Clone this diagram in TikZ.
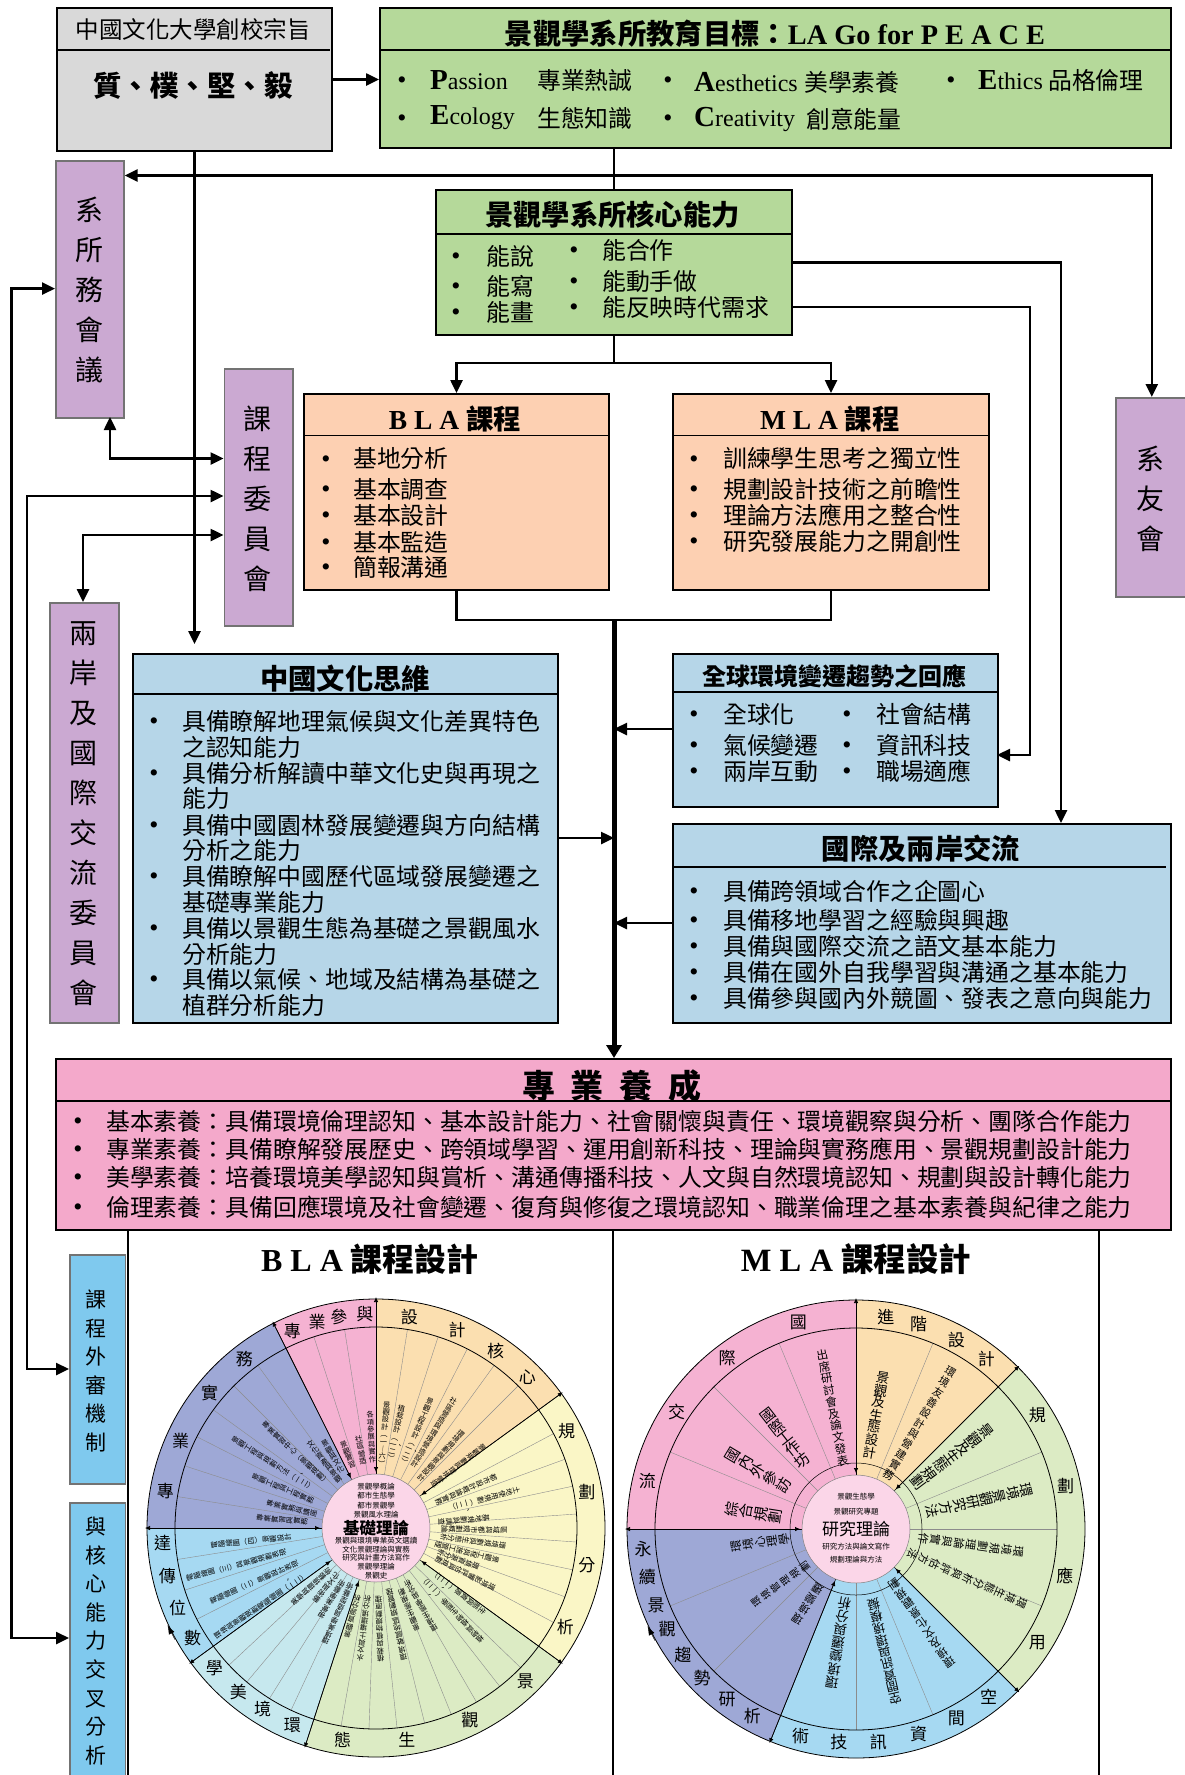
\documentclass[tikz,border=0pt]{standalone}
\usepackage{fontspec}
\usetikzlibrary{arrows.meta,calc}
\setmainfont{Noto Sans CJK TC}
\newfontfamily\latin{Liberation Serif}
\XeTeXlinebreaklocale "zh"
\XeTeXlinebreakskip=0pt plus 1pt
\newcommand{\bktL}{︵\hspace{0pt}}
\newcommand{\bktR}{\hspace{0pt}︶}
\newcommand{\initcap}[2]{{\latin\fontsize{29}{30}\selectfont\bfseries #1\fontsize{24}{30}\selectfont\mdseries #2}}
\definecolor{cgray}{HTML}{D9D9D9}
\definecolor{cgreen}{HTML}{B5D99A}
\definecolor{cpurple}{HTML}{CBA9D2}
\definecolor{corange}{HTML}{FDD0B2}
\definecolor{cblue}{HTML}{B6D6E8}
\definecolor{cpink}{HTML}{F4A9CB}
\definecolor{csky}{HTML}{7FC9EE}
\definecolor{worange}{HTML}{FBDFB0}
\definecolor{wyellow}{HTML}{FAF6C6}
\definecolor{wgreen}{HTML}{DCEBC4}
\definecolor{wcyan}{HTML}{C6E8EE}
\definecolor{wblue}{HTML}{A6D9F2}
\definecolor{wpurple}{HTML}{9EA8D6}
\definecolor{wpink}{HTML}{F5B2D2}
\definecolor{wcore}{HTML}{FBD6E8}
\tikzset{
  >={Triangle[length=13pt,width=12pt]},
  bx/.style={draw=black,line width=2pt,anchor=north west,inner sep=0pt},
  sidebx/.style={draw=black!55,line width=1.6pt,anchor=north west,inner sep=0pt},
  titlerule/.style={line width=1.6pt},
  link/.style={line width=2.5pt},
  head/.style={inner sep=0pt,font=\fontsize{28.3}{30}\selectfont\bfseries},
  body/.style={anchor=west,inner sep=0pt,font=\fontsize{23.85}{26}\selectfont},
  dot/.style={inner sep=0pt,yshift=-3pt,font=\latin\fontsize{26}{26}\selectfont},
  vtext/.style={align=center,inner sep=0pt,font=\fontsize{28}{40}\selectfont},
  vsmall/.style={align=center,inner sep=0pt,font=\fontsize{21}{28.6}\selectfont},
  ringtxt/.style={inner sep=0pt,font=\fontsize{17}{18}\selectfont},
  radS/.style={anchor=north,inner sep=0pt,text width=9pt,align=center,font=\fontsize{7.3}{7.4}\selectfont},
  radM/.style={anchor=north,inner sep=0pt,text width=18pt,align=center},
  spoke/.style={draw=black!45,line width=0.4pt},
  wheelarrow/.style={line width=0.7pt,{Latex[length=5pt,width=4.5pt]}-{Latex[length=5pt,width=4.5pt]}},
}
\begin{document}
\begin{tikzpicture}[x=1pt,y=1pt]
\useasboundingbox (0,0) rectangle (1184,-1775);
% boxes
\node[bx,fill=cgray,minimum width=275pt,minimum height=143pt] (gray) at (56,-7) {};
\node[bx,fill=cgreen,minimum width=791pt,minimum height=140pt] (goal) at (379,-7) {};
\node[sidebx,fill=cpurple,minimum width=68pt,minimum height=257pt] (meet) at (55,-160) {};
\node[sidebx,fill=cpurple,minimum width=68.5pt,minimum height=257pt] (ccom) at (223.5,-368) {};
\node[sidebx,fill=cpurple,minimum width=72pt,minimum height=199pt] (alum) at (1115,-397) {};
\node[sidebx,fill=cpurple,minimum width=69pt,minimum height=420pt] (cross) at (49,-602) {};
\node[bx,fill=cgreen,minimum width=356pt,minimum height=145pt] (core) at (435,-189) {};
\node[bx,fill=corange,minimum width=305pt,minimum height=196pt] (bla) at (303,-393) {};
\node[bx,fill=corange,minimum width=316pt,minimum height=196pt] (mla) at (672,-393) {};
\node[bx,fill=cblue,minimum width=425pt,minimum height=369pt] (cul) at (132,-653) {};
\node[bx,fill=cblue,minimum width=325pt,minimum height=153pt] (glob) at (672,-653) {};
\node[bx,fill=cblue,minimum width=498pt,minimum height=199pt] (intl) at (672,-823) {};
\node[bx,fill=cpink,minimum width=1115pt,minimum height=171pt] (pro) at (55,-1058) {};
\node[sidebx,fill=csky,minimum width=55.5pt,minimum height=229pt] (rev) at (69,-1254) {};
\node[sidebx,fill=csky,minimum width=55.5pt,minimum height=285pt] (ana) at (69,-1502) {};
% title rules
\draw[titlerule] (56,-50) -- (330,-50);
\draw[titlerule] (379,-50) -- (1170,-50);
\draw[titlerule] (435,-234) -- (791,-234);
\draw[titlerule] (303,-435.5) -- (608,-435.5);
\draw[titlerule] (672,-435.5) -- (988,-435.5);
\draw[titlerule] (132,-694) -- (557,-694);
\draw[titlerule] (672,-692) -- (997,-692);
\draw[titlerule] (672,-867) -- (1166,-867);
\draw[titlerule] (55,-1101) -- (1170,-1101);
% titles
\node[head,font=\fontsize{23.5}{26}\selectfont] (grayhd) at (193,-30) {中國文化大學創校宗旨};
\node[head,font=\fontsize{28.5}{30}\selectfont\bfseries] (graybig) at (193,-85) {質、樸、堅、毅};
\node[head] (goalhd) at (775,-34) {景觀學系所教育目標：{\latin LA Go for P E A C E}};
\node[head] (corehd) at (612.5,-215) {景觀學系所核心能力};
\node[head,font=\fontsize{27.5}{30}\selectfont\bfseries] (blahd) at (455,-419) {{\latin B L A }課程};
\node[head,font=\fontsize{27.5}{30}\selectfont\bfseries] (mlahd) at (830,-419) {{\latin M L A }課程};
\node[head] (culhd) at (345,-679) {中國文化思維};
\node[head,font=\fontsize{24}{26}\selectfont\bfseries] (globhd) at (834,-676) {全球環境變遷趨勢之回應};
\node[head] (intlhd) at (921,-849) {國際及兩岸交流};
\node[head,font=\fontsize{33}{36}\selectfont\bfseries] (prohd) at (612,-1086) {專\hspace{16pt}業\hspace{16pt}養\hspace{16pt}成};
\node[head,font=\fontsize{32}{34}\selectfont\bfseries] (bdes) at (370,-1259) {{\latin B L A }課程設計};
\node[head,font=\fontsize{32.5}{34}\selectfont\bfseries] (mdes) at (856,-1259) {{\latin M L A }課程設計};
% side labels
\node[vtext] (meettx) at (89,-290) {系\\所\\務\\會\\議};
\node[vtext] (ccomtx) at (257,-499) {課\\程\\委\\員\\會};
\node[vtext] (alumtx) at (1150,-499) {系\\友\\會};
\node[vtext] (crosstx) at (83,-814) {兩\\岸\\及\\國\\際\\交\\流\\委\\員\\會};
\node[vsmall] (revtx) at (96,-1371) {課\\程\\外\\審\\機\\制};
\node[vsmall] (anatx) at (96,-1641) {與\\核\\心\\能\\力\\交\\叉\\分\\析};
% goal items
\foreach \x/\y [count=\i] in {402/-80,402/-118,668/-80,668/-118,951/-80}
  \node[dot] (gd\i) at (\x,\y) {•};
\node[body] (g1) at (430,-80) {\initcap{P}{assion}};
\node[body] (g2) at (537,-80) {專業熱誠};
\node[body] (g3) at (430,-118) {\initcap{E}{cology}};
\node[body] (g4) at (537,-118) {生態知識};
\node[body] (g5) at (694,-82) {\initcap{A}{esthetics}};
\node[body] (g6) at (804,-82) {美學素養};
\node[body] (g7) at (694,-119) {\initcap{C}{reativity}};
\node[body] (g8) at (806,-119) {創意能量};
\node[body] (g9) at (978,-80) {\initcap{E}{thics} 品格倫理};
% core items
\foreach \y/\t [count=\i] in {-256/能說,-286/能寫,-312/能畫} {
  \node[dot] (cda\i) at (456,\y) {•};
  \node[body] (ca\i) at (486,\y) {\t};
}
\foreach \y/\t [count=\i] in {-250/能合作,-281/能動手做,-307/能反映時代需求} {
  \node[dot] (cdb\i) at (574,\y) {•};
  \node[body] (cb\i) at (602,\y) {\t};
}
% course items
\foreach \y/\t [count=\i] in {-458.5/基地分析,-489/基本調查,-515/基本設計,-542/基本監造,-567/簡報溝通} {
  \node[dot] (bd\i) at (326,\y) {•};
  \node[body] (bt\i) at (353,\y) {\t};
}
\foreach \y/\t [count=\i] in {-458.5/訓練學生思考之獨立性,-489/規劃設計技術之前瞻性,-515/理論方法應用之整合性,-541/研究發展能力之開創性} {
  \node[dot] (md\i) at (694,\y) {•};
  \node[body] (mt\i) at (723,\y) {\t};
}
% culture items
\foreach \y/\t [count=\i] in {-721/具備瞭解地理氣候與文化差異特色,-773/具備分析解讀中華文化史與再現之,-825/具備中國園林發展變遷與方向結構,-876/具備瞭解中國歷代區域發展變遷之,-928/具備以景觀生態為基礎之景觀風水,-979/具備以氣候、地域及結構為基礎之} {
  \node[dot] (cud\i) at (154,\y) {•};
  \node[body] (cut\i) at (182,\y) {\t};
}
\foreach \y/\t [count=\i] in {-747/之認知能力,-798/能力,-850/分析之能力,-902/基礎專業能力,-954/分析能力,-1005/植群分析能力}
  \node[body] (cuw\i) at (182,\y) {\t};
% global items
\foreach \y/\t/\u [count=\i] in {-714/全球化/社會結構,-745/氣候變遷/資訊科技,-771/兩岸互動/職場適應} {
  \node[dot] (gla\i) at (694,\y) {•};
  \node[body] (glb\i) at (723,\y) {\t};
  \node[dot] (glc\i) at (847,\y) {•};
  \node[body] (gld\i) at (876,\y) {\u};
}
% exchange items
\foreach \y/\t [count=\i] in {-891/具備跨領域合作之企圖心,-920/具備移地學習之經驗與興趣,-946/具備與國際交流之語文基本能力,-972/具備在國外自我學習與溝通之基本能力,-998/具備參與國內外競圖、發表之意向與能力} {
  \node[dot] (ixd\i) at (694,\y) {•};
  \node[body] (ixt\i) at (723,\y) {\t};
}
% professional items
\foreach \y/\t [count=\i] in {-1121/基本素養：具備環境倫理認知、基本設計能力、社會關懷與責任、環境觀察與分析、團隊合作能力,-1149/專業素養：具備瞭解發展歷史、跨領域學習、運用創新科技、理論與實務應用、景觀規劃設計能力,-1177/美學素養：培養環境美學認知與賞析、溝通傳播科技、人文與自然環境認知、規劃與設計轉化能力,-1207/倫理素養：具備回應環境及社會變遷、復育與修復之環境認知、職業倫理之基本素養與紀律之能力} {
  \node[dot] (prd\i) at (78,\y) {•};
  \node[body] (prt\i) at (106,\y) {\t};
}
% connectors
\coordinate (hub) at (core.north |- 0,-175.5);
\coordinate (split) at (core.south |- 0,-363);
\coordinate (merge) at (core.south |- 0,-620);
\coordinate (coreA) at (core.east |- 0,-262.6);
\coordinate (coreB) at (core.east |- 0,-307);
\coordinate (intlin) at (1061,-823);
\coordinate (globin) at (997,-755);
\coordinate (meetout) at (110,-417);
\coordinate (ccomA) at (223.5,-458.5);
\coordinate (ccomB) at (223.5,-496);
\coordinate (ccomC) at (223.5,-535);
\coordinate (crossin) at (83,-602);
\coordinate (revin) at (69,-1369);
\coordinate (anain) at (69,-1638);
\coordinate (meetin) at (55,-288.6);
\draw[link,->] (gray.east) -- (gray.east -| goal.west);
\draw[link] (core.north |- goal.south) -- (core.north);
\draw[link,->] (hub) -- (meet.east |- hub);
\draw[link,->] (hub) -| (alum.north);
\draw[link,shorten >=9pt,->] (gray.south) -- (gray.south |- cul.north);
\draw[link] (core.south) -- (split);
\draw[link,->] (split) -| (bla.north);
\draw[link,->] (split) -| (mla.north);
\draw[link] (bla.south) |- (merge);
\draw[link] (mla.south) |- (merge);
\draw[line width=5pt,-{Triangle[length=13pt,width=15pt]}] (merge) -- (merge |- pro.north);
\draw[link,->] (coreA) -| (intlin);
\draw[link,->] (coreB) -| (1030,-755) -- (globin);
\draw[link,->] (glob.west |- 0,-729) -- (merge |- 0,-729);
\draw[link,->] (intl.west |- 0,-923) -- (merge |- 0,-923);
\draw[link,->] (cul.east |- 0,-838) -- (merge |- 0,-838);
\draw[link,<->] (meetout) |- (ccomA);
\draw[link,<->] (ccomB) -| (27,-1369) -- (revin);
\draw[link,<->] (ccomC) -| (crossin);
\draw[link,<->] (meetin) -| (11.5,-1638) -- (anain);
% frame lines below the professional box
\draw[line width=2pt] (128,-1229) -- (128,-1775);
\draw[line width=2pt] (612.5,-1229) -- (612.5,-1775);
\draw[line width=2pt] (1099,-1229) -- (1099,-1775);
% BLA wheel
\begin{scope}[shift={(376,-1528)}]
\foreach \a/\b/\c in {90/36/worange,36/-36/wyellow,-36/-108/wgreen,-108/-144/wcyan,-144/-180/wblue,180/116.6/wpurple,116.6/90/wpink}
  \fill[\c] (0,0) -- (\a:229) arc (\a:\b:229) -- cycle;
\foreach \a in {81,72,63,54,45,28,20,12,4,-4,-12,-20,-28,-44,-52,-60,-68,-76,-84,-92,-100,-115,-122,-130,-137,-153,-162,-171,171,162,153,144,135,126,108,99}
  \draw[spoke] (\a:54) -- (\a:201);
\foreach \a in {90,36,-36,-108,-144,180,116.6}
  \draw[black,line width=0.5pt] (\a:54) -- (\a:229);
\draw[line width=0.8pt] (0,0) circle (229);
\draw[line width=0.8pt] (0,0) circle (201);
\fill[wcore] (0,0) circle (54);
\draw[black!50,line width=0.5pt] (0,0) circle (54);
\foreach \a in {90,36,-36,-108,-144,180,116.6}
  \draw[wheelarrow] (\a:56) -- (\a:231);
\draw[-{Latex[length=9pt,width=6pt]}] (-151:230) -- (-155:230);
\foreach \a/\t [count=\i] in {81/設,67.7/計,56/核,45/心,27/規,9.8/劃,-10/分,-27.7/析,-45.7/景,-64/觀,-81.7/生,-99/態,-113/環,-122/境,-130/美,-139/學,-149/數,-158/位,-167/傳,-176/達,170/專,156/業,141/實,128/務,113/專,106/業,100/參,93/與}
  \node[ringtxt] (bring\i) at (\a:214) {\t};
\foreach \a/\r/\t [count=\i] in {85/127/景觀設計\bktL 一︱六\bktR,78/126/植栽設計\bktL 一、二\bktR,67/141/景觀工程設計\bktL 一、二\bktR,58.7/152/社區營造與環境營造設計,48/130/環境規劃與景觀設計,37/136/景觀規劃與環境營造,23/131/都市設計概論與實務,15/149/土地使用規劃\bktL 一、二\bktR,5/114/基地規劃與調查,-1/131/區域與都市規劃概論,-8/131/環境規劃與生態分析,-15/127/景觀工程與施工管理,-21/110/環境資源分析,-27/133/環境影響評估與規劃,-38/138/生態與資源\bktL 一、二\bktR,-47/156/植物與植物生態學\bktL 一、二\bktR,-60/119/環境生態學與分析,-68/110/景觀生態規劃,-78/135/環境敏感地區規劃管理,-88/134/植栽與植物規劃原理,-97/134/水文與土壤環境分析,-105/113/景觀資源分析,-114/127/環境美學與造型藝術,-122/106/視覺美學藝術,-130/96/藝術與文化,-138/113/美學與環境藝術,-146/194/環境與景觀規劃電腦繪圖\bktL 一、二\bktR,-156/181/電腦繪圖\bktL 二\bktR 景觀設計表現,-165/196/電腦繪圖\bktL 三\bktR 與景觀規劃表現,-174/166/電腦繪圖\bktL 四\bktR 景觀設計,175/120/專業實習與實務,167/112/專業實務與講座,157/134/景觀工程與工程實務,148/169/景觀工程與規劃方法\bktL 一、二\bktR,137/154/專業實習中心\bktL 景觀規劃\bktR,128/110/文化資產與景觀,121/102/景觀與文化,111/93/景觀實習,101/94/社區營造,93/117/各項參展與實作}
  \node[radS,rotate=\a-90] (blab\i) at (\a:\r) {\t};
\node[align=center,inner sep=0pt,font=\fontsize{7.5}{9.4}\selectfont] (bcoreA) at (0,27.5) {景觀學概論\\都市生態學\\都市景觀學\\景觀風水理論};
\node[inner sep=0pt,font=\fontsize{16.5}{18}\selectfont\bfseries] (bcoreB) at (0,0) {基礎理論};
\node[align=center,inner sep=0pt,font=\fontsize{7.5}{8.6}\selectfont] (bcoreC) at (0,-30) {景觀與環境專業英文選讀\\文化景觀理論與實務\\研究與計畫方法寫作\\景觀學理論\\景觀史};
\end{scope}
% MLA wheel
\begin{scope}[shift={(856,-1529)}]
\foreach \a/\b/\c in {90/45/worange,45/-45/wgreen,-45/-112/wblue,-112/-180/wpurple,180/90/wpink}
  \fill[\c] (0,0) -- (\a:229) arc (\a:\b:229) -- cycle;
\foreach \a in {67.5,22.5,0,-22.5,-67.5,-90,-135,-157.5,157.5,135,112.5}
  \draw[spoke] (\a:54) -- (\a:201);
\foreach \a in {90,45,-45,-112,180}
  \draw[black,line width=0.5pt] (\a:54) -- (\a:229);
\draw[line width=0.8pt] (0,0) circle (229);
\draw[line width=0.8pt] (0,0) circle (201);
\draw[line width=0.5pt] (0,0) circle (66);
\fill[wcore] (0,0) circle (54);
\draw[black!50,line width=0.5pt] (0,0) circle (54);
\foreach \a in {90,45,-45,-112,180}
  \draw[wheelarrow] (\a:56) -- (\a:231);
\draw[-{Latex[length=9pt,width=6pt]}] (-151:230) -- (-155:230);
\foreach \a/\t [count=\i] in {82/進,73/階,62/設,52.5/計,32/規,11.5/劃,-12.7/應,-32/用,-51.7/空,-62/間,-73/資,-84/訊,-94.6/技,-105/術,-119/析,-127/研,-136/勢,-144/趨,-152/觀,-159/景,-167/續,-174.5/永,167/流,147/交,127/際,105.6/國}
  \node[ringtxt] (mring\i) at (\a:214) {\t};
\foreach \a/\r/\s/\t [count=\i] in {80/160/13.3/景觀及生態設計,59/188/10.8/環境友善設計與營建實務,37/169/14.5/景觀及生態規劃,13/181/14/環境景觀研究方法,-8/169/11.3/環境規劃理論與實作,-24/187/10.8/環境生態分析與評估方法,-55/168/11.2/環境及文化景觀規劃,-77/180/12.5/空間資訊與環境模擬,-99/161/13.4/環境變遷與分析,-123/112/11/環境變遷,-144/128/10/環境管理規劃,-172/126/11.8/環境心理學,171/133/15/綜合規劃,149/150/15/國內外參訪,128/150/15/國際工作坊,101/183/11.6/出席研討會及論文發表}
  \node[radM,rotate=\a-90] (mlab\i) at (\a:\r) {\fontsize{\s}{\s}\selectfont\t};
\node[inner sep=0pt,font=\fontsize{7.5}{9}\selectfont] (mcoreA) at (0,32) {景觀生態學};
\node[inner sep=0pt,font=\fontsize{7.5}{9}\selectfont] (mcoreB) at (0,17) {景觀研究專題};
\node[inner sep=0pt,font=\fontsize{17}{18}\selectfont] (mcoreC) at (0,0) {研究理論};
\node[align=center,inner sep=0pt,font=\fontsize{7.5}{13}\selectfont] (mcoreD) at (0,-24) {研究方法與論文寫作\\規劃理論與方法};
\end{scope}
\end{tikzpicture}
\end{document}
